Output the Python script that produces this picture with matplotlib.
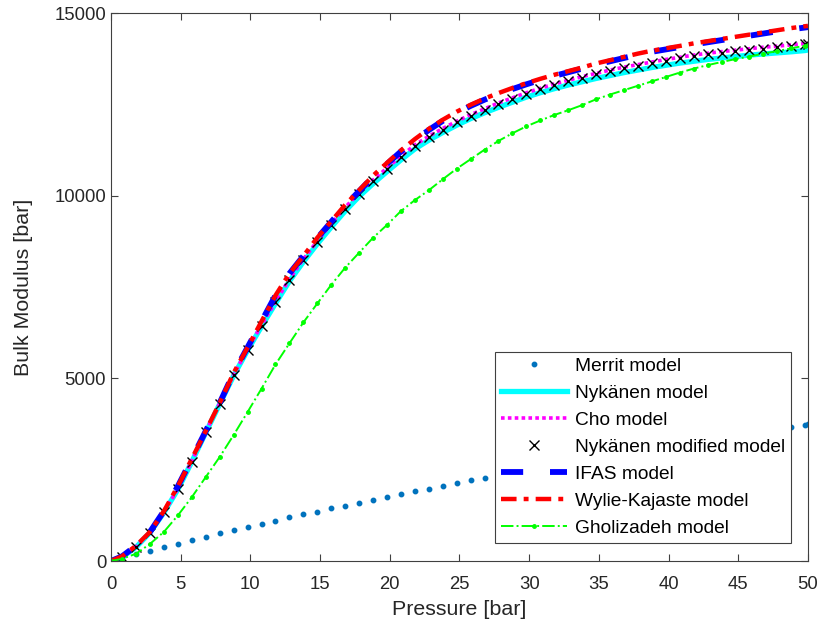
import numpy as np
import matplotlib
matplotlib.use('Agg')
import matplotlib.pyplot as plt

plt.rcParams['font.family'] = ['Liberation Sans', 'DejaVu Sans']

# pressure grid [bar]
pressure = [0, 0.8, 1.8, 2.8, 3.8, 4.8, 5.8, 6.8, 7.8, 8.8, 9.8,
            10.8, 11.8, 12.8, 13.8, 14.8, 15.8, 16.8, 17.8, 18.8, 19.8,
            20.8, 21.8, 22.8, 23.8, 24.8, 25.8, 26.8, 27.8, 28.8, 29.8,
            30.8, 31.8, 32.8, 33.8, 34.8, 35.8, 36.8, 37.8, 38.8, 39.8,
            40.8, 41.8, 42.8, 43.8, 44.8, 45.8, 46.8, 47.8, 48.8, 49.8, 50]

merrit = [0, 90, 190, 285, 390, 475, 565, 660, 755, 840, 935,
          1020, 1105, 1195, 1275, 1355, 1440, 1520, 1600, 1680, 1760,
          1835, 1910, 1985, 2060, 2135, 2210, 2285, 2360, 2435, 2505,
          2575, 2645, 2715, 2785, 2850, 2915, 2980, 3045, 3110, 3175,
          3235, 3295, 3350, 3405, 3460, 3515, 3570, 3620, 3670, 3725, 3750]

wylie = [0, 130, 420, 800, 1370, 2050, 2800, 3560, 4330, 5150, 5850,
         6560, 7270, 7870, 8350, 8850, 9300, 9750, 10150, 10550, 10900,
         11240, 11550, 11830, 12080, 12300, 12490, 12660, 12810, 12950, 13080,
         13200, 13310, 13410, 13510, 13620, 13710, 13800, 13890, 13970, 14035,
         14100, 14170, 14230, 14290, 14350, 14410, 14470, 14530, 14590, 14640, 14650]

ifas = [0, 130, 420, 800, 1370, 2050, 2800, 3560, 4330, 5150, 5850,
        6560, 7270, 7870, 8350, 8840, 9285, 9730, 10125, 10520, 10870,
        11210, 11520, 11800, 12050, 12270, 12460, 12630, 12780, 12920, 13050,
        13170, 13280, 13380, 13480, 13590, 13680, 13770, 13860, 13940, 14005,
        14070, 14140, 14200, 14260, 14320, 14380, 14440, 14500, 14555, 14605, 14615]

nyk_mod = [0, 110, 380, 780, 1330, 1960, 2720, 3520, 4300, 5080, 5780,
           6440, 7080, 7700, 8240, 8730, 9200, 9650, 10050, 10400, 10730,
           11050, 11360, 11600, 11810, 12010, 12190, 12350, 12510, 12650, 12790,
           12910, 13030, 13130, 13230, 13320, 13410, 13490, 13560, 13630, 13700,
           13760, 13820, 13870, 13910, 13950, 13990, 14030, 14060, 14100, 14140, 14150]

cho = [0, 115, 390, 790, 1340, 1980, 2740, 3540, 4320, 5100, 5800,
       6460, 7100, 7720, 8265, 8760, 9230, 9680, 10080, 10430, 10760,
       11080, 11390, 11630, 11840, 12040, 12220, 12380, 12540, 12680, 12820,
       12940, 13060, 13160, 13260, 13350, 13440, 13520, 13590, 13660, 13730,
       13790, 13850, 13900, 13945, 13985, 14025, 14065, 14095, 14130, 14165, 14175]

nykanen = [0, 110, 380, 780, 1330, 1960, 2720, 3520, 4300, 5075, 5770,
           6420, 7050, 7660, 8190, 8680, 9140, 9580, 9980, 10330, 10660,
           10980, 11280, 11520, 11730, 11930, 12110, 12270, 12420, 12560, 12700,
           12820, 12930, 13030, 13120, 13210, 13290, 13370, 13440, 13510, 13570,
           13630, 13680, 13730, 13770, 13810, 13850, 13880, 13910, 13940, 13975, 13990]

gholizadeh = [0, 60, 200, 470, 800, 1250, 1750, 2300, 2850, 3450, 4080,
              4720, 5380, 5960, 6530, 7050, 7560, 8030, 8440, 8850, 9200,
              9580, 9880, 10150, 10450, 10740, 11000, 11260, 11500, 11710, 11900,
              12060, 12210, 12340, 12480, 12640, 12770, 12890, 13010, 13130, 13250,
              13370, 13480, 13575, 13660, 13740, 13810, 13890, 13960, 14035, 14110, 14125]

fig = plt.figure(figsize=(8.18, 6.32), dpi=100)
ax = fig.add_axes([0.1357, 0.1123, 0.852, 0.867])

ax.plot(pressure, merrit, linestyle='none', marker='o', markersize=3.2,
        color='#0072BD', label='Merrit model')
ax.plot(pressure, nykanen, '-', color='cyan', linewidth=3.8, label='Nykänen model')
ax.plot(pressure, cho, ':', color='magenta', linewidth=2.6, dashes=(1, 0.9),
        label='Cho model')
ax.plot(pressure, nyk_mod, linestyle='none', marker='x', markersize=6.5,
        markeredgewidth=1.0, color='black', label='Nykänen modified model')
ax.plot(pressure, ifas, '--', color='blue', linewidth=4.2, dashes=(3.8, 4.6),
        label='IFAS model')
ax.plot(pressure, wylie, '-.', color='red', linewidth=3.2, dashes=(3.5, 1.6, 1.1, 1.6),
        label='Wylie-Kajaste model')
ax.plot(pressure, gholizadeh, '-.', color='#00FF00', linewidth=1.4, marker='.',
        markersize=5, label='Gholizadeh model')

ax.set_xlim(0, 50)
ax.set_ylim(0, 15000)
ax.set_xticks(np.arange(0, 51, 5))
ax.set_yticks([0, 5000, 10000, 15000])
ax.tick_params(direction='in', top=True, right=True, labelsize=13.3,
               length=5, color='#404040', labelcolor='#262626')
ax.tick_params(axis='x', pad=11)
for s in ax.spines.values():
    s.set_color('#404040')
    s.set_linewidth(0.8)

ax.set_xlabel('Pressure [bar]', fontsize=15.4, color='#262626', labelpad=4.5)
ax.set_ylabel('Bulk Modulus [bar]', fontsize=15.4, color='#262626', labelpad=15.5)

leg = ax.legend(loc='lower right', bbox_to_anchor=(0.976, 0.033), fontsize=13.8,
                handlelength=3.45, labelspacing=0.5, fancybox=False, framealpha=1,
                edgecolor='#404040', borderpad=0.3, handletextpad=0.45,
                borderaxespad=0)
leg.get_frame().set_linewidth(0.8)

fig.savefig('out.png', dpi=100)
